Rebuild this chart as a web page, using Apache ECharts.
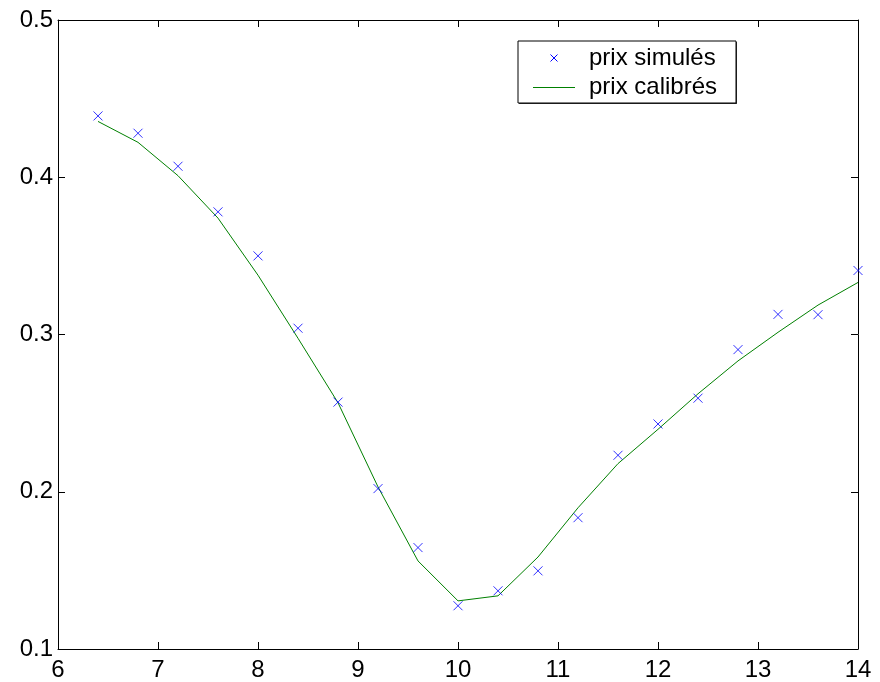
<!DOCTYPE html>
<html>
<head>
<meta charset="utf-8">
<script src="https://cdn.jsdelivr.net/npm/echarts@6/dist/echarts.min.js"></script>
<style>
  html, body { margin: 0; padding: 0; background: #fff; }
  #chart { width: 880px; height: 682px; }
</style>
</head>
<body>
<div id="chart"></div>
<script>
// Strike values
const strikes = [6.4, 6.8, 7.2, 7.6, 8.0, 8.4, 8.8, 9.2, 9.6, 10.0,
                 10.4, 10.8, 11.2, 11.6, 12.0, 12.4, 12.8, 13.2, 13.6, 14.0];
// Simulated prices (markers)
const simulated = [0.439, 0.428, 0.407, 0.378, 0.350, 0.304, 0.257, 0.202, 0.1645, 0.1275,
                   0.137, 0.1497, 0.1835, 0.2232, 0.2431, 0.2595, 0.2904, 0.3128, 0.3126, 0.3407];
// Calibrated prices (line)
const calibrated = [0.4355, 0.4222, 0.401, 0.374, 0.3377, 0.2976, 0.2566, 0.2031, 0.156, 0.1306,
                    0.1338, 0.1585, 0.1898, 0.2179, 0.2397, 0.2623, 0.2832, 0.3014, 0.3187, 0.3331];
const seriesNames = ['prix simulés', 'prix calibrés'];
const xTicks = { min: 6, max: 14, step: 1 };
const yTicks = { min: 0.1, max: 0.5, step: 0.1 };

const FONT = 'Liberation Sans, Arial, Helvetica, sans-serif';
const FONT_SIZE = 24;
const BLUE = '#0000ff';
const GREEN = '#008000';
const CROSS = 'path://M0,0L10,10M10,0L0,10';

const chart = echarts.init(document.getElementById('chart'), null, { renderer: 'canvas' });

const baseAxis = {
  axisLine: { show: true, onZero: false, lineStyle: { color: '#000', width: 1 } },
  axisTick: { show: true, inside: true, length: 7, lineStyle: { color: '#000', width: 1 } },
  splitLine: { show: false }
};

const xData = strikes.map((x, i) => [x, simulated[i]]);
const lData = strikes.map((x, i) => [x, calibrated[i]]);

chart.setOption({
  animation: false,
  backgroundColor: '#fff',
  grid: { left: 58, top: 20, width: 800, height: 631, containLabel: false },
  xAxis: [
    Object.assign({}, baseAxis, {
      type: 'value', position: 'bottom',
      min: xTicks.min, max: xTicks.max, interval: xTicks.step,
      axisLabel: { show: true, color: '#000', fontFamily: FONT, fontSize: FONT_SIZE, margin: 9,
                   hideOverlap: false }
    }),
    Object.assign({}, baseAxis, {
      type: 'value', position: 'top',
      min: xTicks.min, max: xTicks.max, interval: xTicks.step,
      axisLabel: { show: false }
    })
  ],
  yAxis: [
    Object.assign({}, baseAxis, {
      type: 'value', position: 'left',
      min: yTicks.min, max: yTicks.max, interval: yTicks.step,
      axisLabel: { show: true, color: '#000', fontFamily: FONT, fontSize: FONT_SIZE, margin: 5,
                   formatter: v => v.toFixed(1) }
    }),
    Object.assign({}, baseAxis, {
      type: 'value', position: 'right',
      min: yTicks.min, max: yTicks.max, interval: yTicks.step,
      axisLabel: { show: false }
    })
  ],
  series: [
    {
      name: seriesNames[1],
      type: 'line',
      data: lData,
      symbol: 'none',
      lineStyle: { color: GREEN, width: 1 },
      z: 2
    },
    {
      name: seriesNames[0],
      type: 'scatter',
      data: xData,
      symbol: CROSS,
      symbolSize: 9,
      itemStyle: { color: 'rgba(0,0,0,0)', borderColor: BLUE, borderWidth: 1 },
      z: 3
    }
  ],
  graphic: [
    { type: 'rect', shape: { x: 519, y: 42, width: 218, height: 62 },
      style: { fill: '#333' }, z: 10 },
    { type: 'rect', shape: { x: 518, y: 41, width: 218, height: 62 },
      style: { fill: '#fff', stroke: '#000', lineWidth: 1 }, z: 11 },
    { type: 'line', shape: { x1: 550.5, y1: 54.5, x2: 557.5, y2: 61.5 },
      style: { stroke: BLUE, lineWidth: 1 }, z: 12 },
    { type: 'line', shape: { x1: 557.5, y1: 54.5, x2: 550.5, y2: 61.5 },
      style: { stroke: BLUE, lineWidth: 1 }, z: 12 },
    { type: 'line', shape: { x1: 533, y1: 87.5, x2: 575, y2: 87.5 },
      style: { stroke: GREEN, lineWidth: 1 }, z: 12 },
    { type: 'text', x: 589, y: 58,
      style: { text: seriesNames[0], font: FONT_SIZE + 'px ' + FONT, fill: '#000',
               verticalAlign: 'middle' }, z: 12 },
    { type: 'text', x: 589, y: 87,
      style: { text: seriesNames[1], font: FONT_SIZE + 'px ' + FONT, fill: '#000',
               verticalAlign: 'middle' }, z: 12 }
  ]
});
</script>
</body>
</html>
